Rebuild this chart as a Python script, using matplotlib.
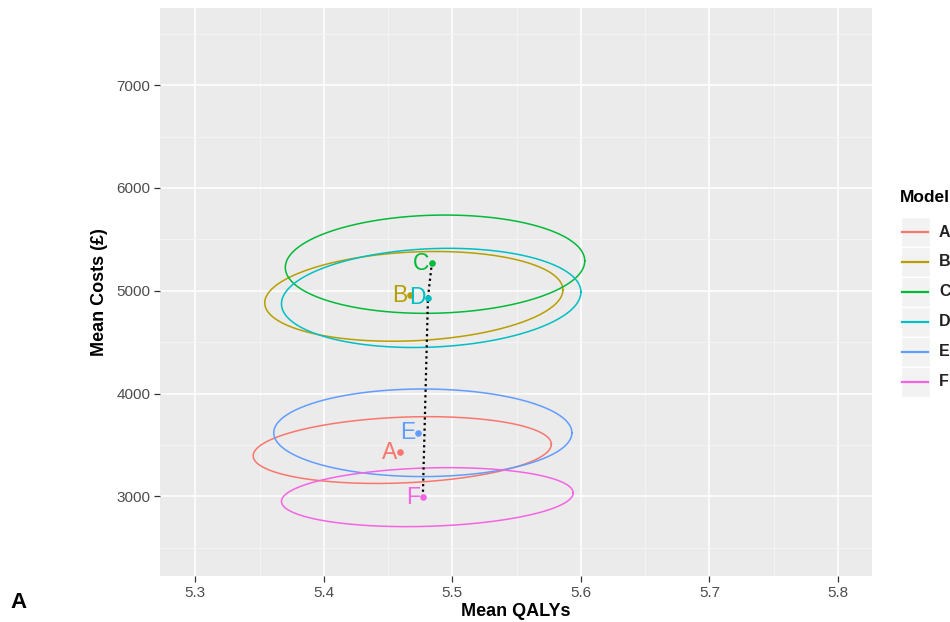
import numpy as np
import matplotlib.pyplot as plt
from matplotlib.patches import Rectangle

plt.rcParams['font.family'] = ['Liberation Sans', 'DejaVu Sans']

# model summaries
models = ["A", "B", "C", "D", "E", "F"]
colors = ["#F8766D", "#B79F00", "#00BA38", "#00BFC4", "#619CFF", "#F564E3"]
mean_qaly = [5.459, 5.467, 5.484, 5.481, 5.473, 5.477]
mean_cost = [3428, 4958, 5266, 4933, 3620, 2990]

# confidence ellipses: centre, half-width (QALY), half-height (cost), tilt (cost shift at QALY extremes)
ell_qaly = [5.461, 5.470, 5.4865, 5.4835, 5.477, 5.4805]
ell_cost = [3450, 4945, 5258, 4930, 3618, 2992]
ell_halfw = [0.116, 0.116, 0.1165, 0.1165, 0.116, 0.1135]
ell_halfh = [320, 432, 477, 479, 426, 284]
ell_tilt = [56, 63, 32, 57, 0, 41]

# efficiency frontier
frontier = ["F", "D", "C"]

x_ticks = [5.3, 5.4, 5.5, 5.6, 5.7, 5.8]
y_ticks = [3000, 4000, 5000, 6000, 7000]


def main():
    fig = plt.figure(figsize=(9.5, 6.22), dpi=100)
    W, H = 950, 622
    ax = fig.add_axes([160 / W, 1 - 576 / H, (872 - 160) / W, (576 - 8) / H])
    ax.set_facecolor("#EBEBEB")
    for s in ax.spines.values():
        s.set_visible(False)

    ax.set_xticks(x_ticks)
    ax.set_xticklabels([str(v) for v in x_ticks])
    ax.set_yticks(y_ticks)
    ax.set_xticks(np.arange(5.35, 5.80, 0.1), minor=True)
    ax.set_yticks(np.arange(2500, 7600, 1000), minor=True)
    ax.set_xlim(5.2725, 5.8265)
    ax.set_ylim(2225, 7750)
    ax.grid(which="major", color="white", linewidth=1.1)
    ax.grid(which="minor", color="#F5F5F5", linewidth=0.6)
    ax.set_axisbelow(True)
    ax.tick_params(which="major", length=4, width=0.9, color="#333333",
                   labelsize=11, labelcolor="#4D4D4D", pad=3)
    ax.tick_params(which="minor", length=0)

    t = np.linspace(0, 2 * np.pi, 300)
    for i, m in enumerate(models):
        ex = ell_qaly[i] + ell_halfw[i] * np.cos(t)
        ey = ell_cost[i] + ell_halfh[i] * np.sin(t) + ell_tilt[i] * np.cos(t)
        ax.plot(ex, ey, color=colors[i], linewidth=1.1)

    fx = [mean_qaly[models.index(m)] for m in frontier]
    fy = [mean_cost[models.index(m)] for m in frontier]
    ax.plot(fx, fy, color="black", linestyle=(0, (1, 1.5)), linewidth=1.6)

    for i, m in enumerate(models):
        ax.scatter(mean_qaly[i], mean_cost[i], s=14, color=colors[i], zorder=4)
        ax.annotate(m, (mean_qaly[i], mean_cost[i]), xytext=(-2, 0),
                    textcoords="offset points", ha="right", va="center",
                    fontsize=16.5, color=colors[i], zorder=5)

    ax.set_xlabel("Mean QALYs", fontsize=13, fontweight="bold", labelpad=2)
    ax.set_ylabel("Mean Costs (£)", fontsize=13, fontweight="bold", labelpad=6)

    fig.text(10 / W, 1 - 603 / H, "A", fontsize=16, fontweight="bold",
             ha="left", va="center")

    # legend drawn by hand, cut off at the right edge like the original
    fig.text(900 / W, 1 - 197 / H, "Model", fontsize=12.5, fontweight="bold",
             ha="left", va="center")
    key_top = 217
    key_h = 30
    for i, m in enumerate(models):
        y0 = key_top + i * key_h
        fig.add_artist(Rectangle((901 / W, 1 - (y0 + key_h) / H), 29 / W, key_h / H,
                                 transform=fig.transFigure, facecolor="#F2F2F2",
                                 edgecolor="white", linewidth=1))
        yc = 1 - (y0 + key_h / 2) / H
        fig.add_artist(plt.Line2D([902 / W, 928 / W], [yc, yc],
                                  transform=fig.transFigure, color=colors[i],
                                  linewidth=1.6))
        fig.text(939 / W, yc, m, fontsize=11.5, fontweight="bold",
                 ha="left", va="center", color="#222222")

    fig.savefig("out.png", dpi=100)


if __name__ == "__main__":
    main()
